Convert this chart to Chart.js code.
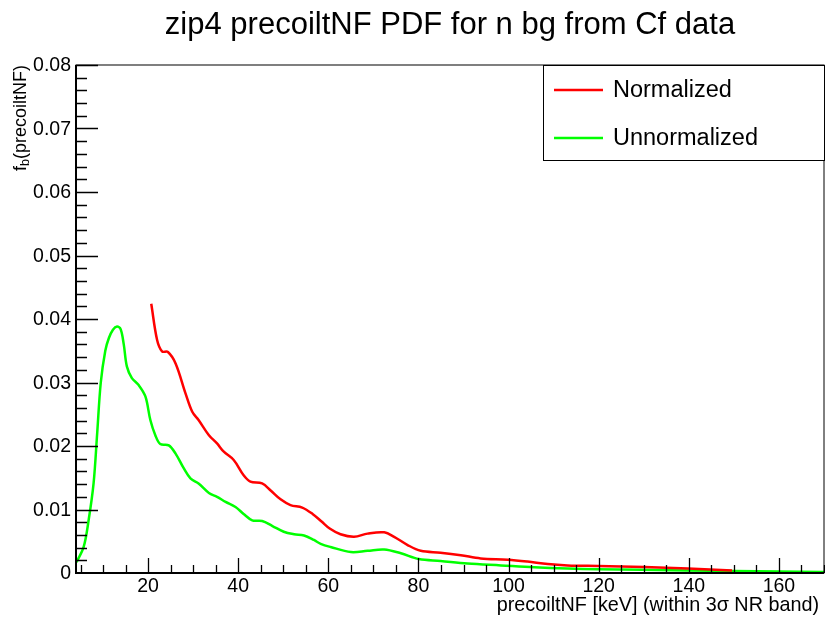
<!DOCTYPE html>
<html>
<head>
<meta charset="utf-8">
<script src="https://cdn.jsdelivr.net/npm/chart.js@4.4.1/dist/chart.umd.min.js"></script>
<style>
  html, body { margin: 0; padding: 0; background: #fff; }
  #wrap { width: 825px; height: 623px; }
</style>
</head>
<body>
<div id="wrap"><canvas id="pdfChart" width="825" height="623"></canvas></div>
<script>
// --- data ---
const normX = [20.7, 22, 23.1, 24.4, 26.1, 28.3, 29.8, 31.2, 33.5, 35.3, 36.8, 39, 41.2, 42.7, 45.3, 47.2, 49.4, 51.6, 54.2, 56.5, 58.5, 60.3, 62.7, 65.7, 68.7, 72.4, 74.6, 77.6, 80.5, 84.9, 89.4, 93.8, 99.8, 104.2, 108.7, 113.1, 119.8, 130.1, 139.8, 149.6];
const normY = [0.0424, 0.0367, 0.0349, 0.0348, 0.0330, 0.0283, 0.0254, 0.0241, 0.0217, 0.0204, 0.0191, 0.0178, 0.0154, 0.0144, 0.0141, 0.0130, 0.0116, 0.0107, 0.0103, 0.0093, 0.0081, 0.0070, 0.0061, 0.0057, 0.0062, 0.0064, 0.0057, 0.0044, 0.0035, 0.0032, 0.0028, 0.0023, 0.0021, 0.0018, 0.0014, 0.0012, 0.0011, 0.00095, 0.0007, 0.0004];

const unnX = [4.1, 5.7, 6.8, 7.9, 8.7, 9.5, 10.5, 11.3, 12.2, 13.1, 13.9, 14.6, 15.3, 16.4, 17.9, 19.4, 20.5, 21.6, 22.7, 24.6, 26.1, 27.9, 29.4, 31.2, 33.5, 35.3, 37.2, 39.4, 41.2, 43.1, 45.3, 47.6, 50.1, 52.4, 54.6, 56.8, 58.3, 60.5, 65, 68.7, 72.4, 76.1, 80.1, 84.9, 90.9, 98.3, 105.7, 113.1, 119.8, 139.4, 150, 170];
const unnY = [0.0017, 0.0041, 0.0083, 0.0141, 0.0220, 0.0300, 0.0350, 0.0370, 0.0383, 0.0388, 0.0384, 0.0360, 0.0325, 0.0307, 0.0296, 0.0278, 0.0241, 0.0217, 0.0203, 0.0201, 0.0188, 0.0165, 0.0149, 0.0141, 0.0126, 0.0120, 0.0112, 0.0104, 0.0093, 0.0083, 0.0082, 0.0074, 0.0065, 0.0061, 0.0059, 0.0052, 0.0046, 0.0041, 0.0033, 0.0035, 0.0037, 0.0031, 0.0022, 0.0019, 0.0015, 0.0012, 0.0009, 0.0007, 0.0006, 0.0004, 0.0003, 0.00015];

const xTickLabels = [20, 40, 60, 80, 100, 120, 140, 160];
const yTickLabels = ['0', '0.01', '0.02', '0.03', '0.04', '0.05', '0.06', '0.07', '0.08'];
const yTickValues = [0, 0.01, 0.02, 0.03, 0.04, 0.05, 0.06, 0.07, 0.08];

const seriesNames = ['Normalized', 'Unnormalized'];
const seriesColors = ['#ff0000', '#00ff00'];

const titleText = 'zip4 precoiltNF PDF for n bg from Cf data';
const xTitle = 'precoiltNF [keV] (within 3\u03c3 NR band)';

const FONT = '"Liberation Sans", Arial, Helvetica, sans-serif';

function toPoints(xs, ys) {
    return xs.map((v, i) => ({ x: v, y: ys[i] }));
}

// ROOT-like frame, inner ticks, labels, legend
const rootStyle = {
    id: 'rootStyle',
    afterDraw(chart) {
        const ctx = chart.ctx;
        const a = chart.chartArea;
        const xs = chart.scales.x;
        const ys = chart.scales.y;

        ctx.save();
        ctx.strokeStyle = '#000';
        ctx.fillStyle = '#000';

        // frame
        ctx.lineWidth = 1;
        ctx.strokeRect(a.left, a.top, a.right - a.left, a.bottom - a.top);
        ctx.lineWidth = 2;
        ctx.beginPath();
        ctx.moveTo(a.left, a.top);
        ctx.lineTo(a.left, a.bottom);
        ctx.lineTo(a.right, a.bottom);
        ctx.stroke();

        // x ticks (inside)
        ctx.lineWidth = 1.3;
        ctx.beginPath();
        for (let v = 5; v <= xs.max; v += 5) {
            const px = Math.round(xs.getPixelForValue(v)) + 0.5;
            const len = v % 20 === 0 ? 15 : 8;
            ctx.moveTo(px, a.bottom);
            ctx.lineTo(px, a.bottom - len);
        }
        // y ticks (inside)
        for (let i = 1; i <= 40; i++) {
            const v = i * 0.002;
            const py = Math.round(ys.getPixelForValue(v)) + 0.5;
            const len = i % 5 === 0 ? 22 : 11;
            ctx.moveTo(a.left, py);
            ctx.lineTo(a.left + len, py);
        }
        ctx.stroke();

        // tick labels
        ctx.font = '19.5px ' + FONT;
        ctx.textAlign = 'center';
        ctx.textBaseline = 'middle';
        xTickLabels.forEach(v => {
            ctx.fillText(String(v), xs.getPixelForValue(v), 587);
        });
        ctx.textAlign = 'right';
        yTickValues.forEach((v, i) => {
            ctx.fillText(yTickLabels[i], a.left - 5, ys.getPixelForValue(v) + 1);
        });

        // title
        ctx.font = '31px ' + FONT;
        ctx.textAlign = 'center';
        ctx.textBaseline = 'middle';
        ctx.fillText(titleText, 450, 25);

        // x axis title
        ctx.font = '19.8px ' + FONT;
        ctx.textAlign = 'right';
        ctx.fillText(xTitle, 819, 606);

        // y axis title, rotated, with subscript b
        ctx.save();
        ctx.translate(21, 65);
        ctx.rotate(-Math.PI / 2);
        ctx.textAlign = 'left';
        ctx.textBaseline = 'middle';
        const main = '(precoiltNF)';
        ctx.font = '18px ' + FONT;
        const wMain = ctx.measureText(main).width;
        ctx.font = '12.5px ' + FONT;
        const wSub = ctx.measureText('b').width;
        ctx.font = '18px ' + FONT;
        const wF = ctx.measureText('f').width;
        const total = wF + wSub + wMain;
        let cx = -total;
        ctx.fillText('f', cx, 0);
        cx += wF;
        ctx.font = '12.5px ' + FONT;
        ctx.fillText('b', cx, 5);
        cx += wSub;
        ctx.font = '18px ' + FONT;
        ctx.fillText(main, cx, 0);
        ctx.restore();

        // legend box
        const lx = 543, ly = 65, lw = 281, lh = 95;
        ctx.fillStyle = '#fff';
        ctx.fillRect(lx, ly, lw, lh);
        ctx.lineWidth = 1;
        ctx.strokeStyle = '#000';
        ctx.strokeRect(lx + 0.5, ly + 0.5, lw, lh);
        ctx.font = '23.5px ' + FONT;
        ctx.textAlign = 'left';
        ctx.textBaseline = 'middle';
        seriesNames.forEach((name, i) => {
            const yy = 90 + i * 48;
            ctx.strokeStyle = seriesColors[i];
            ctx.lineWidth = 2.5;
            ctx.beginPath();
            ctx.moveTo(554, yy);
            ctx.lineTo(603, yy);
            ctx.stroke();
            ctx.fillStyle = '#000';
            ctx.fillText(name, 613, yy + 1);
        });

        ctx.restore();
    }
};

new Chart(document.getElementById('pdfChart'), {
    type: 'line',
    data: {
        datasets: [
            { label: seriesNames[0], data: toPoints(normX, normY), borderColor: seriesColors[0], borderWidth: 2.5, pointRadius: 0, tension: 0.35, fill: false },
            { label: seriesNames[1], data: toPoints(unnX, unnY), borderColor: seriesColors[1], borderWidth: 2.5, pointRadius: 0, tension: 0.35, fill: false }
        ]
    },
    options: {
        responsive: false,
        animation: false,
        layout: { padding: { left: 76, top: 65, right: 1, bottom: 50 } },
        plugins: { legend: { display: false }, tooltip: { enabled: false }, title: { display: false } },
        scales: {
            x: { type: 'linear', min: 4, max: 170, display: false },
            y: { type: 'linear', min: 0, max: 0.08, display: false }
        }
    },
    plugins: [rootStyle]
});
</script>
</body>
</html>
